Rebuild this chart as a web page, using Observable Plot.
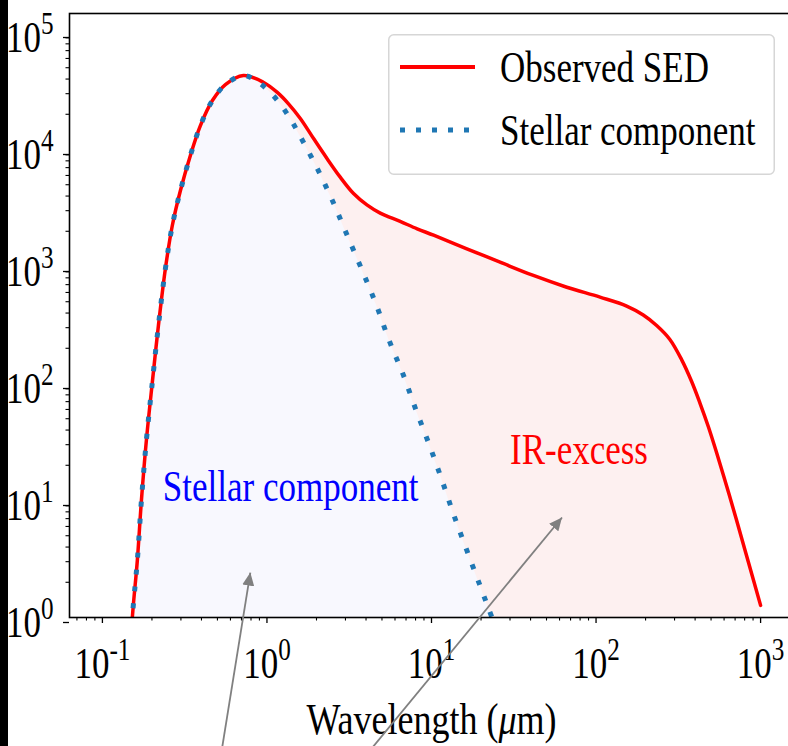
<!DOCTYPE html>
<html>
<head>
<meta charset="utf-8">
<script src="https://cdn.jsdelivr.net/npm/d3@7"></script>
<script src="https://cdn.jsdelivr.net/npm/@observablehq/plot@0.6"></script>
<style>
html, body { margin: 0; padding: 0; background: #fff; overflow: hidden; }
#wrap { position: relative; width: 788px; height: 746px; overflow: hidden; }
#chart { position: absolute; left: 0; top: 0; width: 800px; height: 746px; }
#chart svg { max-width: none !important; width: 800px !important; height: 746px !important; }
#band { position: absolute; left: 0; top: 0; width: 8px; height: 746px; background: #000; }
#legend { position: absolute; left: 388px; top: 34px; }
</style>
</head>
<body>
<div id="wrap"><div id="chart"></div><div id="legend"></div><div id="band"></div></div>
<script>
// ---- data ----
const starWave = [0.1, 0.13, 0.152, 0.163, 0.1726, 0.185, 0.201, 0.219, 0.2415, 0.266, 0.298, 0.3425, 0.394, 0.466, 0.559, 0.719, 0.874, 1.048, 1.222, 1.406, 1.595, 2.022, 2.53, 3.076, 3.79, 4.61, 5.53, 6.73, 8.07, 9.68, 11.6, 13.7, 16.4, 19.7, 23.3, 30, 50, 100, 300, 1000];
const starFlux = [1e-5, 0.03, 1.0, 3.07, 10, 32.6, 102, 313, 961, 2240, 4460, 8890, 16000, 26200, 35900, 42900, 38100, 30700, 23800, 17700, 12900, 6880, 3520, 1840, 925, 473, 233, 119, 58.8, 30.1, 14.8, 7.44, 3.74, 1.88, 1.0, 0.39, 0.058, 0.0043, 7e-5, 8e-7];

const obsWave = [0.1, 0.13, 0.152, 0.163, 0.1726, 0.185, 0.201, 0.219, 0.2415, 0.266, 0.298, 0.3425, 0.394, 0.466, 0.559, 0.719, 0.95, 1.151, 1.348, 1.595, 1.92, 2.316, 2.789, 3.359, 4.05, 4.88, 6.45, 8.18, 10.3, 16.4, 26.1, 41.6, 66.4, 105.7, 153.5, 193.6, 233.5, 281, 331, 381, 428, 481, 540, 621, 714, 841, 1000];
const obsFlux = [1e-5, 0.03, 1.0, 3.07, 10, 32.6, 102, 313, 961, 2240, 4460, 8890, 16000, 26200, 35900, 42900, 37600, 30900, 24700, 18400, 12400, 8380, 5800, 4205, 3360, 2860, 2430, 2100, 1850, 1417, 1088, 838, 665, 547, 459, 385, 313, 238, 160, 104, 68.1, 42.9, 25.7, 13.4, 6.81, 3.01, 1.27];

const xTicks = [0.1, 1, 10, 100, 1000];
const xTickLabels = ["10^-1", "10^0", "10^1", "10^2", "10^3"];
const xMinorTicks = [0.07, 0.08, 0.09, 0.2, 0.3, 0.4, 0.5, 0.6, 0.7, 0.8, 0.9, 2, 3, 4, 5, 6, 7, 8, 9, 20, 30, 40, 50, 60, 70, 80, 90, 200, 300, 400, 500, 600, 700, 800, 900];
const yTicks = [1, 10, 100, 1000, 10000, 100000];
const yTickLabels = ["10^0", "10^1", "10^2", "10^3", "10^4", "10^5"];
const yMinorTicks = [2,3,4,5,6,7,8,9,20,30,40,50,60,70,80,90,200,300,400,500,600,700,800,900,2000,3000,4000,5000,6000,7000,8000,9000,20000,30000,40000,50000,60000,70000,80000,90000];

const xTitle = "Wavelength (μm)";
const seriesNames = ["Observed SED", "Stellar component"];

const noteText = ["Stellar component", "IR-excess"];
const noteWave = [0.233, 30];
const noteFlux = [10, 20.7];

const arrowTailWave = [0.496, 2.99];
const arrowTailFlux = [0.0404, 0.0404];
const arrowHeadWave = [0.7925, 62.1];
const arrowHeadFlux = [2.42, 7.16];

// ---- tables ----
const star = starWave.map((w, i) => ({w, f: starFlux[i]}));
const obs = obsWave.map((w, i) => ({w, f: obsFlux[i]}));
const notes = noteText.map((t, i) => ({t, w: noteWave[i], f: noteFlux[i]}));
const arrows = arrowTailWave.map((w, i) => ({x1: w, y1: arrowTailFlux[i], x2: arrowHeadWave[i], y2: arrowHeadFlux[i]}));
const xLab = new Map(xTicks.map((d, i) => [d, xTickLabels[i]]));
const yLab = new Map(yTicks.map((d, i) => [d, yTickLabels[i]]));

const FS = 35, STRETCH = 1.25;
const RED = "#ff0000", BLUE = "#1f77b4";
const CURVE = "catmull-rom";

function filledHead(color, context) {
  const doc = (context && context.document) || document;
  const NS = "http://www.w3.org/2000/svg";
  const m = doc.createElementNS(NS, "marker");
  m.setAttribute("viewBox", "-13 -6 13 12");
  m.setAttribute("markerWidth", 13);
  m.setAttribute("markerHeight", 12);
  m.setAttribute("refX", 0);
  m.setAttribute("refY", 0);
  m.setAttribute("markerUnits", "userSpaceOnUse");
  m.setAttribute("orient", "auto");
  const p = doc.createElementNS(NS, "path");
  p.setAttribute("d", "M-13,-6L0,0L-13,6Z");
  p.setAttribute("fill", color);
  p.setAttribute("stroke", "none");
  m.appendChild(p);
  return m;
}

const chart = Plot.plot({
  width: 800,
  height: 746,
  marginLeft: 69,
  marginRight: 7,
  marginTop: 13,
  marginBottom: 129,
  x: {type: "log", domain: [Math.pow(10, -1.2), Math.pow(10, 3.2)], axis: null, label: null},
  y: {type: "log", domain: [1, Math.pow(10, 604 / 117)], axis: null, label: null},
  style: {fontFamily: "'Liberation Serif', 'Times New Roman', serif", background: "transparent", color: "#000", maxWidth: "none"},
  marks: [
    Plot.areaY(obs, {x: "w", y1: () => 1, y2: "f", fill: "#fdf0f0", curve: CURVE, clip: true}),
    Plot.areaY(star, {x: "w", y1: () => 1, y2: "f", fill: "#f8f8fe", curve: CURVE, clip: true}),
    Plot.line(obs, {x: "w", y: "f", stroke: RED, strokeWidth: 3.5, curve: CURVE, clip: true}),
    Plot.line(star, {x: "w", y: "f", stroke: BLUE, strokeWidth: 5, strokeDasharray: "5,12", strokeLinecap: "butt", curve: CURVE, clip: true}),
    Plot.text(notes, {x: "w", y: "f", text: "t", fill: (d, i) => i === 0 ? "#0000ff" : RED, textAnchor: "start", lineAnchor: "middle", dy: -FS * 0.32 * STRETCH, fontSize: FS}),
    Plot.frame({stroke: "#000", strokeWidth: 1.6}),
    Plot.axisX(xTicks, {anchor: "bottom", tickSize: 6, tickPadding: 23, strokeWidth: 1.3, fontSize: FS, tickFormat: (d) => xLab.get(d), label: null}),
    Plot.axisX(xMinorTicks, {anchor: "bottom", tickSize: 3.5, strokeWidth: 1.1, tickFormat: () => "", label: null}),
    Plot.axisY(yTicks, {anchor: "left", tickSize: 6, tickPadding: 10, strokeWidth: 1.3, fontSize: FS, dy: 5, tickFormat: (d) => yLab.get(d), label: null}),
    Plot.axisY(yMinorTicks, {anchor: "left", tickSize: 3.5, strokeWidth: 1.1, tickFormat: () => "", label: null}),
    Plot.text([xTitle], {frameAnchor: "bottom", text: (d) => d, dy: 102, lineAnchor: "middle", fontSize: 36}),
    Plot.link(arrows, {x1: "x1", y1: "y1", x2: "x2", y2: "y2", stroke: "#808080", strokeWidth: 1.8, markerEnd: filledHead})
  ]
});

// typographic touches: superscripts, italic mu, vertical stretch of glyphs
const NS = "http://www.w3.org/2000/svg";
chart.querySelectorAll("text").forEach((t) => {
  const txt = t.textContent;
  const m = /^10\^(-?\d+)$/.exec(txt);
  if (m) {
    t.textContent = "10";
    const ts = document.createElementNS(NS, "tspan");
    ts.style.fontSize = "72%";
    ts.setAttribute("dy", "-0.56em");
    ts.textContent = m[1];
    t.appendChild(ts);
  } else if (txt.includes("μ")) {
    const [a, b] = txt.split("μ");
    t.textContent = a;
    const ts = document.createElementNS(NS, "tspan");
    ts.setAttribute("font-style", "italic");
    ts.textContent = "μ";
    t.appendChild(ts);
    t.appendChild(document.createTextNode(b));
  }
  let tr = t.getAttribute("transform");
  if (!tr) {
    const x = t.getAttribute("x") || 0, y = t.getAttribute("y") || 0;
    t.removeAttribute("x"); t.removeAttribute("y");
    tr = `translate(${x},${y})`;
  }
  t.setAttribute("transform", tr + ` scale(1,${STRETCH})`);
});
chart.style.maxWidth = "none";
chart.style.height = "746px";
document.getElementById("chart").appendChild(chart);

// legend
const lg = d3.select("#legend").append("svg").attr("width", 390).attr("height", 145)
  .style("font-family", "'Liberation Serif', 'Times New Roman', serif");
lg.append("rect").attr("x", 0.75).attr("y", 0.75).attr("width", 385.5).attr("height", 139.5).attr("rx", 5)
  .attr("fill", "#fff").attr("fill-opacity", 0.85).attr("stroke", "#d6d6d6").attr("stroke-width", 1.5);
const rows = [{stroke: RED, w: 4, dash: null, y: 33, ty: 48}, {stroke: BLUE, w: 5, dash: "5,11", y: 96, ty: 111}];
rows.forEach((r, i) => {
  lg.append("line").attr("x1", 12).attr("x2", 87).attr("y1", r.y).attr("y2", r.y)
    .attr("stroke", r.stroke).attr("stroke-width", r.w).attr("stroke-dasharray", r.dash);
  lg.append("text").attr("transform", `translate(112,${r.ty}) scale(1,${STRETCH})`)
    .attr("font-size", 35).attr("fill", "#000").text(seriesNames[i]);
});
</script>
</body>
</html>
